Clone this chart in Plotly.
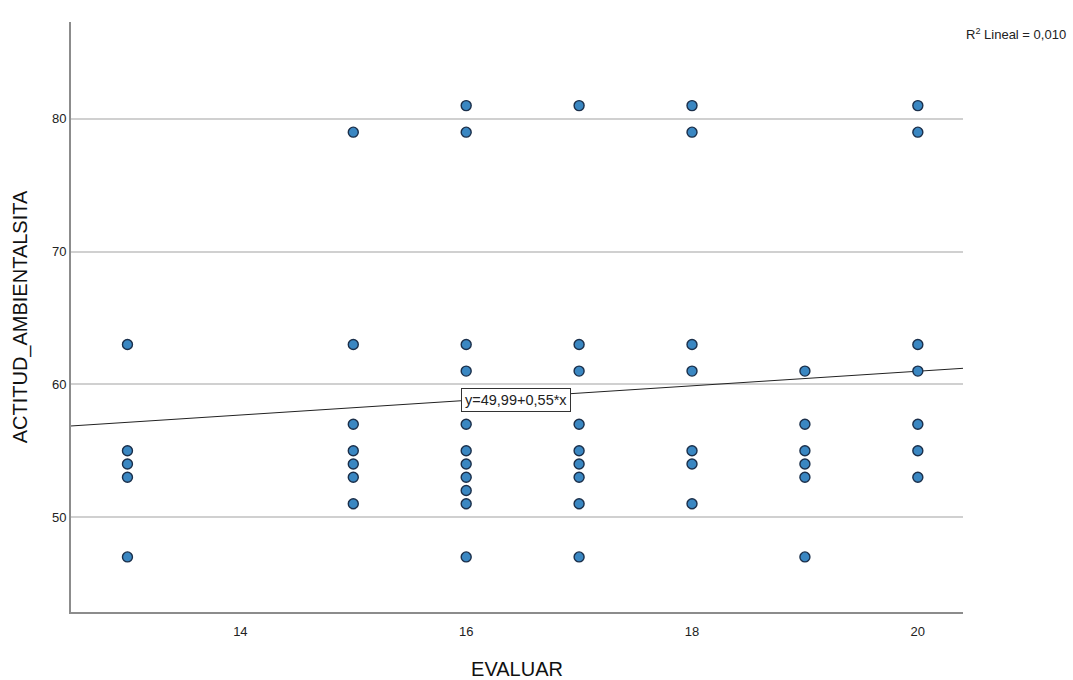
import plotly.graph_objects as go

# Data (x = EVALUAR, y = ACTITUD_AMBIENTALSITA)
x13 = [63, 55, 54, 53, 47]
x15 = [79, 63, 57, 55, 54, 53, 51]
x16 = [81, 79, 63, 61, 57, 55, 54, 53, 52, 51, 47]
x17 = [81, 63, 61, 57, 55, 54, 53, 51, 47]
x18 = [81, 79, 63, 61, 55, 54, 51]
x19 = [61, 57, 55, 54, 53, 47]
x20 = [81, 79, 63, 61, 57, 55, 53]
groups = {13: x13, 15: x15, 16: x16, 17: x17, 18: x18, 19: x19, 20: x20}

intercept = 49.99
slope = 0.55
x_range = [12.5, 20.4]
y_range = [42.85, 87.3]
y_ticks = [50, 60, 70, 80]
x_ticks = [14, 16, 18, 20]

xs, ys = [], []
for k, vals in groups.items():
    xs += [k] * len(vals)
    ys += vals

FONT = "Liberation Sans, Arial"

fig = go.Figure()
fig.add_trace(go.Scatter(
    x=x_range, y=[intercept + slope * v for v in x_range],
    mode="lines", line=dict(color="#222222", width=1), hoverinfo="skip",
    showlegend=False,
))
fig.add_trace(go.Scatter(
    x=xs, y=ys, mode="markers",
    marker=dict(size=10, color="#3a87c2", line=dict(color="#1b2f4a", width=1.4)),
    showlegend=False,
))

fig.add_annotation(
    x=15.95, y=58.8, xref="x", yref="y", xanchor="left", yanchor="middle",
    text="y=49,99+0,55*x", showarrow=False,
    font=dict(family=FONT, size=14.5, color="#222222"),
    bgcolor="white", bordercolor="#333333", borderwidth=1, borderpad=3,
)
fig.add_annotation(
    xref="paper", yref="paper", x=1.118, y=0.98, xanchor="right", yanchor="middle",
    text="R<sup>2</sup> Lineal = 0,010", showarrow=False,
    font=dict(family=FONT, size=13, color="#222222"),
)

fig.update_layout(
    width=1073, height=680,
    margin=dict(l=71, r=110, t=22, b=68, autoexpand=False),
    plot_bgcolor="white", paper_bgcolor="white",
    font=dict(family=FONT, size=13, color="#222222"),
    xaxis=dict(
        range=x_range, tickvals=x_ticks, showgrid=False, zeroline=False,
        showline=True, linecolor="#8c8c8c", linewidth=2, ticks="",
        automargin=False, ticklabelstandoff=6,
        title=dict(text="EVALUAR", font=dict(size=20, color="#111111"), standoff=24),
        tickfont=dict(size=13),
    ),
    yaxis=dict(
        range=y_range, tickvals=y_ticks, showgrid=True, gridcolor="#d0d0d0",
        gridwidth=2, zeroline=False, automargin=False,
        showline=True, linecolor="#8c8c8c", linewidth=2, ticks="",
        title=dict(text="ACTITUD_AMBIENTALSITA", font=dict(size=20, color="#111111"), standoff=19),
        tickfont=dict(size=13),
    ),
)

fig.write_html(
    "out.html",
    config={"displayModeBar": False},
    post_script="document.body.style.margin='0';document.body.style.padding='0';",
)
